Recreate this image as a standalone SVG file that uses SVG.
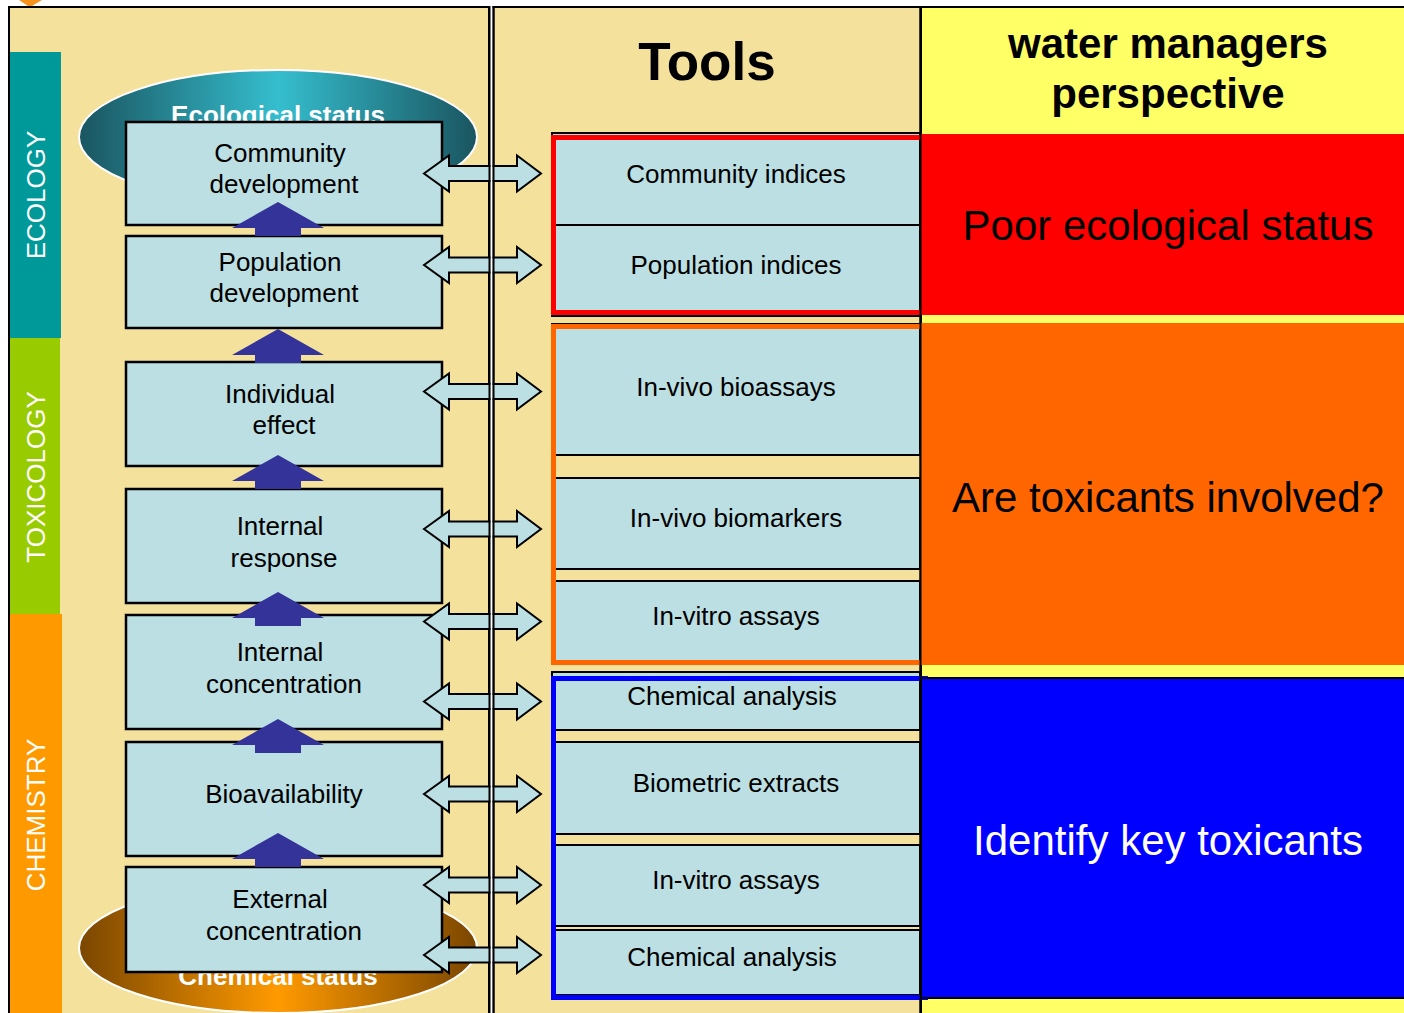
<svg xmlns="http://www.w3.org/2000/svg" width="1404" height="1013" viewBox="0 0 1404 1013">
  <defs>
    <style>
      .box{fill:#BBDFE2;stroke:#000;stroke-width:2.5}
      .cell{fill:#BBDFE2;stroke:#000;stroke-width:2}
      .t{font-family:"Liberation Sans",Arial,sans-serif;font-size:26px;fill:#000;text-anchor:middle}
      .side{font-family:"Liberation Sans",Arial,sans-serif;font-size:26px;fill:#fff;text-anchor:middle}
      .status{font-family:"Liberation Sans",Arial,sans-serif;font-size:26px;font-weight:bold;fill:#fff;text-anchor:middle}
      .big{font-family:"Liberation Sans",Arial,sans-serif;font-size:42px;fill:#000;text-anchor:middle}
      .head{font-family:"Liberation Sans",Arial,sans-serif;font-weight:bold;fill:#000;text-anchor:middle}
      .up{fill:#333399}
      .dbl{fill:#BBDFE2;stroke:#000;stroke-width:2;stroke-linejoin:miter}
    </style>
    <linearGradient id="ecoGrad" x1="0" y1="0" x2="1" y2="0">
      <stop offset="0" stop-color="#1A5560"/>
      <stop offset="0.5" stop-color="#35BECE"/>
      <stop offset="1" stop-color="#1A5560"/>
    </linearGradient>
    <linearGradient id="chemGrad" x1="0" y1="0" x2="1" y2="0">
      <stop offset="0" stop-color="#7A4600"/>
      <stop offset="0.5" stop-color="#FF9A00"/>
      <stop offset="1" stop-color="#7A4600"/>
    </linearGradient>
    <!-- two-headed connector, centred on y=0 -->
    <path id="dblArrow" class="dbl" d="M424,0 L449,-18 L449,-7.5 L517,-7.5 L517,-18 L541,0 L517,18 L517,7.5 L449,7.5 L449,18 Z"/>
    <!-- upward block arrow, tip at y=0 -->
    <path id="upArrow" class="up" d="M278,0 L324,26 L301,26 L301,34 L255,34 L255,26 L232,26 Z"/>
  </defs>

  <rect x="0" y="0" width="1404" height="1013" fill="#fff"/>
  <path d="M19,0 L42,0 L32,6 Q30,7.5 28,6 Z" fill="#F7941D"/>

  <!-- panels -->
  <g id="panels">
    <rect x="9" y="7" width="480" height="1012" fill="#F4E29C" stroke="#000" stroke-width="2"/>
    <rect x="493.5" y="7" width="427" height="1012" fill="#F4E29C" stroke="#000" stroke-width="2"/>
    <rect x="921" y="7" width="490" height="1012" fill="#FFFF66" stroke="#000" stroke-width="2"/>
  </g>

  <!-- discipline bands -->
  <g id="band-ecology">
    <rect x="10" y="52" width="51" height="286" fill="#009999"/>
    <text class="side" transform="translate(45,195) rotate(-90)">ECOLOGY</text>
  </g>
  <g id="band-toxicology">
    <rect x="10" y="338" width="50" height="276" fill="#99CC00"/>
    <text class="side" transform="translate(45,477) rotate(-90)">TOXICOLOGY</text>
  </g>
  <g id="band-chemistry">
    <rect x="10" y="614" width="52" height="400" fill="#FF9900"/>
    <text class="side" transform="translate(45,815) rotate(-90)">CHEMISTRY</text>
  </g>

  <!-- status ellipses -->
  <g id="ecological-status">
    <ellipse cx="278" cy="137" rx="199" ry="67" fill="url(#ecoGrad)" stroke="#fff" stroke-width="2"/>
    <text class="status" x="278" y="124">Ecological status</text>
  </g>
  <g id="chemical-status">
    <ellipse cx="278" cy="948" rx="199" ry="65" fill="url(#chemGrad)" stroke="#fff" stroke-width="2"/>
    <text class="status" x="278" y="985">Chemical status</text>
  </g>

  <!-- effect chain -->
  <g id="community-development">
    <rect class="box" x="126" y="122" width="316" height="103"/>
    <text class="t" x="280" y="162">Community</text>
    <text class="t" x="284" y="193">development</text>
  </g>
  <g id="population-development">
    <rect class="box" x="126" y="236" width="316" height="92"/>
    <text class="t" x="280" y="271">Population</text>
    <text class="t" x="284" y="302">development</text>
  </g>
  <g id="individual-effect">
    <rect class="box" x="126" y="362" width="316" height="104"/>
    <text class="t" x="280" y="403">Individual</text>
    <text class="t" x="284" y="434">effect</text>
  </g>
  <g id="internal-response">
    <rect class="box" x="126" y="489" width="316" height="114"/>
    <text class="t" x="280" y="535">Internal</text>
    <text class="t" x="284" y="567">response</text>
  </g>
  <g id="internal-concentration">
    <rect class="box" x="126" y="615" width="316" height="114"/>
    <text class="t" x="280" y="661">Internal</text>
    <text class="t" x="284" y="693">concentration</text>
  </g>
  <g id="bioavailability">
    <rect class="box" x="126" y="742" width="316" height="114"/>
    <text class="t" x="284" y="803">Bioavailability</text>
  </g>
  <g id="external-concentration">
    <rect class="box" x="126" y="867" width="316" height="105"/>
    <text class="t" x="280" y="908">External</text>
    <text class="t" x="284" y="940">concentration</text>
  </g>

  <!-- tool cells -->
  <g id="tools-ecology">
    <rect class="cell" x="552" y="133" width="368" height="92"/>
    <rect class="cell" x="552" y="225" width="368" height="91"/>
    <rect x="553.5" y="137.5" width="372" height="175" fill="none" stroke="#FF0000" stroke-width="5"/>
    <text class="t" x="736" y="183">Community indices</text>
    <text class="t" x="736" y="274">Population indices</text>
  </g>
  <g id="tools-toxicology">
    <rect class="cell" x="552" y="324" width="368" height="131"/>
    <rect class="cell" x="552" y="478" width="368" height="91"/>
    <rect class="cell" x="552" y="581" width="368" height="81"/>
    <rect x="553.5" y="326.5" width="372" height="336" fill="none" stroke="#FF6600" stroke-width="5"/>
    <text class="t" x="736" y="396">In-vivo bioassays</text>
    <text class="t" x="736" y="527">In-vivo biomarkers</text>
    <text class="t" x="736" y="625">In-vitro assays</text>
  </g>
  <g id="tools-chemistry">
    <rect class="cell" x="552" y="672" width="368" height="58"/>
    <rect class="cell" x="552" y="742" width="368" height="92"/>
    <rect class="cell" x="552" y="845" width="368" height="81"/>
    <rect class="cell" x="552" y="930" width="368" height="65"/>
    <rect x="553.5" y="678.5" width="372" height="319" fill="none" stroke="#0000FF" stroke-width="5"/>
    <text class="t" x="732" y="705">Chemical analysis</text>
    <text class="t" x="736" y="792">Biometric extracts</text>
    <text class="t" x="736" y="889">In-vitro assays</text>
    <text class="t" x="732" y="966">Chemical analysis</text>
  </g>

  <!-- manager perspective -->
  <g id="header-tools">
    <text class="head" x="707" y="80" font-size="53">Tools</text>
  </g>
  <g id="header-managers">
    <text class="head" x="1168" y="58" font-size="42">water managers</text>
    <text class="head" x="1168" y="108" font-size="42">perspective</text>
  </g>
  <g id="poor-ecological-status">
    <rect x="921" y="134" width="483" height="181" fill="#FF0000"/>
    <text class="big" x="1168" y="240">Poor ecological status</text>
  </g>
  <g id="toxicants-involved">
    <rect x="921" y="323" width="483" height="342" fill="#FF6600"/>
    <text class="big" x="1168" y="512">Are toxicants involved?</text>
  </g>
  <g id="identify-toxicants">
    <rect x="921" y="678" width="490" height="320" fill="#0000FF" stroke="#000" stroke-width="2"/>
    <text class="big" x="1168" y="855" fill="#fff" style="fill:#fff">Identify key toxicants</text>
  </g>

  <!-- connectors -->
  <g id="connectors">
    <use href="#upArrow" y="202"/>
    <use href="#upArrow" y="329"/>
    <use href="#upArrow" y="455"/>
    <use href="#upArrow" y="592"/>
    <use href="#upArrow" y="719"/>
    <use href="#upArrow" y="833"/>
    <use href="#dblArrow" y="173.5"/>
    <use href="#dblArrow" y="265"/>
    <use href="#dblArrow" y="391.5"/>
    <use href="#dblArrow" y="529"/>
    <use href="#dblArrow" y="621.5"/>
    <use href="#dblArrow" y="701.5"/>
    <use href="#dblArrow" y="794"/>
    <use href="#dblArrow" y="885"/>
    <use href="#dblArrow" y="955"/>
  </g>

  <!-- panel dividers drawn over the connectors -->
  <g id="dividers">
    <rect x="490.5" y="8" width="2" height="1005" fill="#fff"/>
    <line x1="489.5" y1="6" x2="489.5" y2="1013" stroke="#000" stroke-width="2"/>
    <line x1="493.5" y1="6" x2="493.5" y2="1013" stroke="#000" stroke-width="2"/>
    <line x1="920.5" y1="6" x2="920.5" y2="1013" stroke="#000" stroke-width="2"/>
  </g>
</svg>
